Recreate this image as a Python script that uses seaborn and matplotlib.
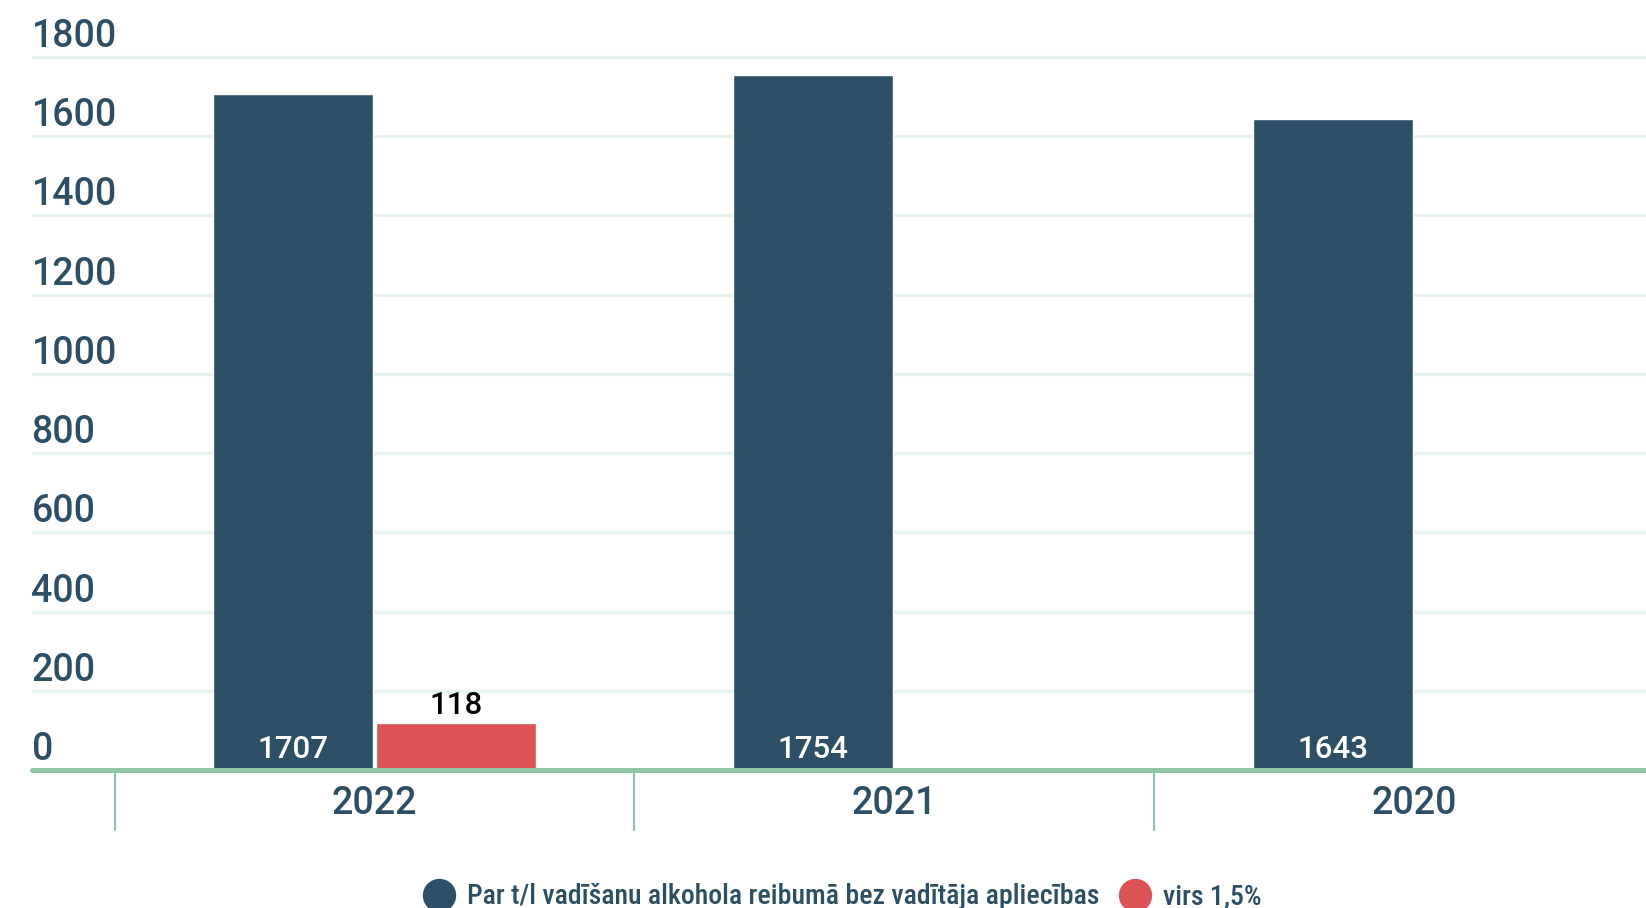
import matplotlib
matplotlib.use("Agg")
import matplotlib.pyplot as plt
import seaborn as sns
import pandas as pd
import numpy as np
from matplotlib.lines import Line2D
import matplotlib.transforms as mtransforms

years = ["2022", "2021", "2020"]
series_names = ["Par t/l vadīšanu alkohola reibumā bez vadītāja apliecības", "virs 1,5%"]
dark_values = [1707, 1754, 1643]
red_values = [118, np.nan, np.nan]
y_ticks = [0, 200, 400, 600, 800, 1000, 1200, 1400, 1600, 1800]

DARK = "#2c4f66"
RED = "#dc5356"
GREEN = "#8ec6a6"
GRID = "#e7f3ee"

df = pd.DataFrame({
    "year": years * 2,
    "series": [series_names[0]] * 3 + [series_names[1]] * 3,
    "value": dark_values + red_values,
})

sns.set_style("white")
plt.rcParams["font.family"] = ["Roboto", "DejaVu Sans"]

fig = plt.figure(figsize=(16.46, 9.08), dpi=100)
ax = fig.add_axes([31.5 / 1646, 1 - 770 / 908, 1 - 31.5 / 1646, 770 / 908])

sns.barplot(data=df, x="year", y="value", hue="series", order=years,
            hue_order=series_names, palette=[DARK, RED], width=0.625, gap=0.015,
            legend=False, ax=ax, saturation=1)

ax.set_xlim(-0.66, 2.446)
ax.set_ylim(0, 1944)
ax.set_xlabel("")
ax.set_ylabel("")
for s in ax.spines.values():
    s.set_visible(False)

ax.set_yticks(y_ticks)
ax.set_yticklabels([])
ax.tick_params(axis="y", length=0)
ax.yaxis.grid(True, color=GRID, linewidth=2.4)
ax.set_axisbelow(True)

for v in y_ticks:
    ax.annotate(str(v), xy=(0, v), xycoords=("axes fraction", "data"),
                xytext=(0, 10), textcoords="offset pixels",
                ha="left", va="baseline", fontsize=27, color=DARK,
                fontweight="medium")

ax.tick_params(axis="x", length=0, pad=11, labelsize=27, labelcolor=DARK)
for t in ax.get_xticklabels():
    t.set_fontweight("medium")

ax.axhline(0, color=GREEN, linewidth=3.6, zorder=5, clip_on=False)
trans = mtransforms.blended_transform_factory(ax.transData, ax.transAxes)
for b in np.arange(len(years) + 1) - 0.5:
    ax.plot([b, b], [0, -60 / 770], transform=trans, color=GREEN,
            linewidth=1.5, clip_on=False, zorder=5)

for container, color in zip(ax.containers, ["dark", "red"]):
    for bar in container:
        h = bar.get_height()
        if h is None or np.isnan(h) or h == 0:
            continue
        cx = bar.get_x() + bar.get_width() / 2
        if color == "dark":
            ax.annotate(f"{int(h)}", xy=(cx, 0), xytext=(0, 12),
                        textcoords="offset pixels", ha="center", va="baseline",
                        fontsize=22.5, color="white", zorder=6, fontweight="medium")
        else:
            ax.annotate(f"{int(h)}", xy=(cx, h), xytext=(0, 9),
                        textcoords="offset pixels", ha="center", va="baseline",
                        fontsize=22.5, color="black", zorder=6, fontweight="medium")

handles = [Line2D([0], [0], marker="o", linestyle="", markersize=23,
                  markerfacecolor=c, markeredgecolor=c) for c in [DARK, RED]]
fig.legend(handles, series_names, loc="center", bbox_to_anchor=(843.5 / 1646, 1 - 897 / 908),
           ncol=2, frameon=False, handletextpad=0.5, columnspacing=0.8,
           prop={"family": ["Roboto Condensed", "Roboto", "DejaVu Sans"], "size": 20,
                 "weight": "medium"},
           labelcolor=DARK, handlelength=1.0)

fig.savefig("out.png", dpi=100)
